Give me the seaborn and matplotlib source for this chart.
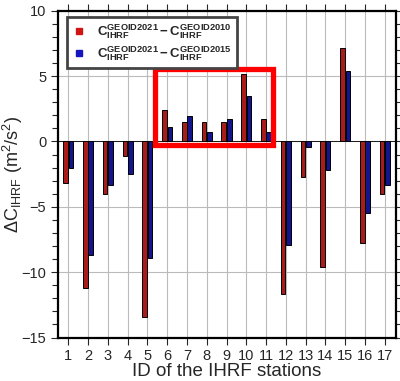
import numpy as np
import pandas as pd
import matplotlib
matplotlib.use("Agg")
import matplotlib.pyplot as plt
import seaborn as sns
from matplotlib.patches import Rectangle
from matplotlib.lines import Line2D
from matplotlib.ticker import MultipleLocator

# data
stations = list(range(1, 18))
diff_2010 = [-3.2, -11.2, -4.0, -1.1, -13.4, 2.4, 1.45, 1.45, 1.45, 5.15,
             1.7, -11.7, -2.7, -9.6, 7.15, -7.8, -4.0]
diff_2015 = [-2.0, -8.7, -3.3, -2.5, -8.9, 1.1, 1.95, 0.7, 1.7, 3.5,
             0.7, -7.9, -0.45, -2.2, 5.35, -5.5, -3.3]
series_names = ["2010", "2015"]

df = pd.DataFrame({
    "station": stations * 2,
    "series": [series_names[0]] * 17 + [series_names[1]] * 17,
    "value": diff_2010 + diff_2015,
})

sns.set_style("ticks")
plt.rcParams["font.family"] = ["Liberation Sans", "DejaVu Sans"]
plt.rcParams["mathtext.fontset"] = "custom"
plt.rcParams["mathtext.rm"] = "Liberation Sans"
plt.rcParams["mathtext.it"] = "Liberation Sans:italic"
plt.rcParams["mathtext.bf"] = "Liberation Sans:bold"

fig = plt.figure(figsize=(4.0, 3.81), dpi=100)
ax = fig.add_axes([0.145, 0.114, 0.845, 0.858])

bar_colors = {"2010": "#a81c1c", "2015": "#14148c"}
sns.barplot(data=df, x="station", y="value", hue="series", palette=bar_colors,
            width=0.55, gap=0.15, edgecolor="black", linewidth=0.7,
            saturation=1, legend=False, ax=ax, zorder=3)

ax.set_xlim(-0.52, 16.57)
ax.set_ylim(-15, 10)
ax.yaxis.set_major_locator(MultipleLocator(5))
ax.yaxis.set_minor_locator(MultipleLocator(1))
ax.grid(True, which="major", color="#bbbbbb", linewidth=0.8, zorder=0)
ax.set_axisbelow(True)
ax.axhline(0, color="black", linewidth=0.6, zorder=2)

ax.tick_params(axis="both", which="both", direction="out", labelsize=10.5,
               top=True, right=True, labelright=False, labeltop=False)
ax.tick_params(axis="both", which="major", length=5, width=0.8)
ax.tick_params(axis="y", which="minor", length=4, width=0.8)
for s in ax.spines.values():
    s.set_linewidth(1.6)
    s.set_color("black")

ax.set_xlabel("ID of the IHRF stations", fontsize=13.5, labelpad=0)
ax.set_ylabel(r"$\Delta$C$_{\mathrm{IHRF}}$ (m$^2$/s$^2$)", fontsize=13, labelpad=0)
ax.yaxis.set_label_coords(-0.097, 0.5)

# highlighted region
ax.add_patch(Rectangle((4.36, -0.25), 5.98, 5.81, fill=False,
                       edgecolor="#ff0000", linewidth=3.8, zorder=5))

handles = [
    Line2D([], [], marker="s", linestyle="none", color="#d01515", markersize=4),
    Line2D([], [], marker="s", linestyle="none", color="#1515c0", markersize=4),
]
labels = [
    r"$\mathbf{C^{GEOID2021}_{IHRF} - C^{GEOID2010}_{IHRF}}$",
    r"$\mathbf{C^{GEOID2021}_{IHRF} - C^{GEOID2015}_{IHRF}}$",
]
leg = ax.legend(handles, labels, loc="upper left", bbox_to_anchor=(0.027, 0.981),
                borderaxespad=0, fontsize=9.5, frameon=True, fancybox=False,
                framealpha=1, edgecolor="#444444", borderpad=0.4,
                handletextpad=0.9, labelspacing=0.25, handlelength=1.0)
leg.get_frame().set_linewidth(2.0)
leg.set_zorder(6)

plt.savefig("out.png", dpi=100)
plt.close()
